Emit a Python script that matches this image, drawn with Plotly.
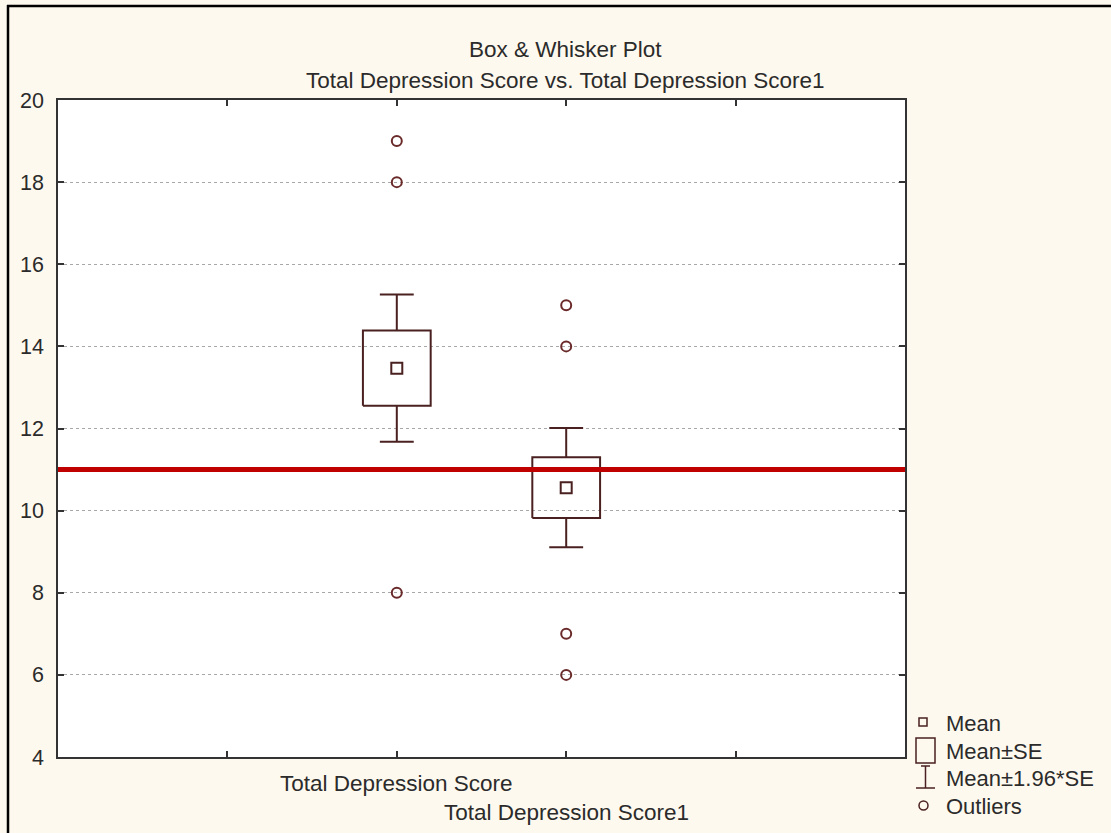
import plotly.graph_objects as go

# ---- data ----
categories = ["Total Depression Score", "Total Depression Score1"]
cat_pos = [2, 3]
means = [13.47, 10.56]
se = [0.915, 0.74]
ci_factor = 1.96
outliers = [[19, 18, 8], [15, 14, 7, 6]]
ref_line = 11.0
y_ticks = [4, 6, 8, 10, 12, 14, 16, 18, 20]
title_line1 = "Box & Whisker Plot"
title_line2 = "Total Depression Score vs. Total Depression Score1"
legend_labels = ["Mean", "Mean±SE", "Mean±1.96*SE", "Outliers"]

# ---- layout constants ----
W, H = 1111, 833
L, R, T, B = 58, 206, 100, 76
PW, PH = W - L - R, H - T - B
FONT = "Liberation Sans, Arial, sans-serif"
TXT = "#2b2b2b"
BOXC = "#4a2020"
OUTC = "#6a2a2a"
BG = "#fef9ee"
FS = 22.5

def px(x):
    return (x - L) / PW

def py(y):
    return (H - B - y) / PH

fig = go.Figure()

box_half = 0.2
cap_half = 0.1
for c, m, s, outs in zip(cat_pos, means, se, outliers):
    lo_b, hi_b = m - s, m + s
    lo_w, hi_w = m - ci_factor * s, m + ci_factor * s
    # box (mean ± SE)
    fig.add_trace(go.Scatter(
        x=[c - box_half, c + box_half, c + box_half, c - box_half, c - box_half],
        y=[lo_b, lo_b, hi_b, hi_b, lo_b], mode="lines",
        line=dict(color=BOXC, width=2), showlegend=False, hoverinfo="skip"))
    # whiskers (mean ± 1.96 SE)
    fig.add_trace(go.Scatter(
        x=[c, c, None, c - cap_half, c + cap_half, None, c, c, None, c - cap_half, c + cap_half],
        y=[hi_b, hi_w, None, hi_w, hi_w, None, lo_b, lo_w, None, lo_w, lo_w], mode="lines",
        line=dict(color=BOXC, width=2), showlegend=False, hoverinfo="skip"))
    # mean
    fig.add_trace(go.Scatter(
        x=[c], y=[m], mode="markers",
        marker=dict(symbol="square-open", size=11, color=BOXC, line=dict(width=2)),
        showlegend=False))
    # outliers
    fig.add_trace(go.Scatter(
        x=[c] * len(outs), y=outs, mode="markers",
        marker=dict(symbol="circle-open", size=10, color=OUTC, line=dict(width=2)),
        showlegend=False))

shapes = []
# reference red line
shapes.append(dict(type="line", xref="paper", yref="y", x0=0, x1=1, y0=ref_line, y1=ref_line,
                   line=dict(color="#c00000", width=5), layer="above"))
# outer frame (top and left edges of the window)
shapes.append(dict(type="line", xref="paper", yref="paper", x0=px(7), x1=px(1200),
                   y0=py(6), y1=py(6), line=dict(color="black", width=2.5)))
shapes.append(dict(type="line", xref="paper", yref="paper", x0=px(8), x1=px(8),
                   y0=py(5), y1=py(900), line=dict(color="black", width=2.5)))

# legend symbols
shapes.append(dict(type="rect", xref="paper", yref="paper", x0=px(919), x1=px(927),
                   y0=py(726), y1=py(718), line=dict(color=BOXC, width=1.5)))
shapes.append(dict(type="rect", xref="paper", yref="paper", x0=px(916), x1=px(935),
                   y0=py(763), y1=py(738), line=dict(color=BOXC, width=1.5)))
shapes.append(dict(type="line", xref="paper", yref="paper", x0=px(925.5), x1=px(925.5),
                   y0=py(766), y1=py(788), line=dict(color=BOXC, width=1.5)))
shapes.append(dict(type="line", xref="paper", yref="paper", x0=px(921), x1=px(930),
                   y0=py(766), y1=py(766), line=dict(color=BOXC, width=1.5)))
shapes.append(dict(type="line", xref="paper", yref="paper", x0=px(916), x1=px(935),
                   y0=py(788), y1=py(788), line=dict(color=BOXC, width=1.5)))
shapes.append(dict(type="circle", xref="paper", yref="paper", x0=px(919), x1=px(928),
                   y0=py(810), y1=py(801), line=dict(color=BOXC, width=1.5)))

annotations = []
annotations.append(dict(text=title_line1, xref="paper", yref="paper", x=px(565), y=py(50),
                        showarrow=False, xanchor="center", yanchor="middle",
                        font=dict(size=FS, color=TXT, family=FONT)))
annotations.append(dict(text=title_line2, xref="paper", yref="paper", x=px(565), y=py(80),
                        showarrow=False, xanchor="center", yanchor="middle",
                        font=dict(size=FS, color=TXT, family=FONT)))
for i, (c, lab) in enumerate(zip(cat_pos, categories)):
    annotations.append(dict(text=lab, xref="x", yref="paper", x=c, y=0,
                            yshift=-(26 + 29 * i), showarrow=False,
                            xanchor="center", yanchor="middle",
                            font=dict(size=FS, color=TXT, family=FONT)))
for lab, yc in zip(legend_labels, [723, 751, 778, 806]):
    annotations.append(dict(text=lab, xref="paper", yref="paper", x=px(944), y=py(yc),
                            showarrow=False, xanchor="left", yanchor="middle",
                            font=dict(size=22, color=TXT, family=FONT)))

fig.update_layout(
    width=W, height=H,
    margin=dict(l=L, r=R, t=T, b=B, pad=0),
    paper_bgcolor=BG, plot_bgcolor="white",
    showlegend=False,
    shapes=shapes, annotations=annotations,
    font=dict(family=FONT, size=22, color=TXT),
)
fig.update_xaxes(range=[0, 5], tickvals=[1, 2, 3, 4], showticklabels=False,
                 ticks="inside", ticklen=6, tickwidth=1.5, tickcolor="#333",
                 showline=True, linecolor="#333", linewidth=1.5, mirror="ticks",
                 showgrid=False, zeroline=False)
fig.update_yaxes(range=[4, 20], tickvals=y_ticks, ticks="inside", ticklen=6,
                 tickwidth=1.5, tickcolor="#333",
                 showline=True, linecolor="#333", linewidth=1.5, mirror="ticks",
                 showgrid=True, gridcolor="#a8a8a8", griddash="dot", gridwidth=1,
                 zeroline=False, ticklabelstandoff=8,
                 tickfont=dict(size=21.5, color=TXT, family=FONT))

fig.write_html("out.html")
